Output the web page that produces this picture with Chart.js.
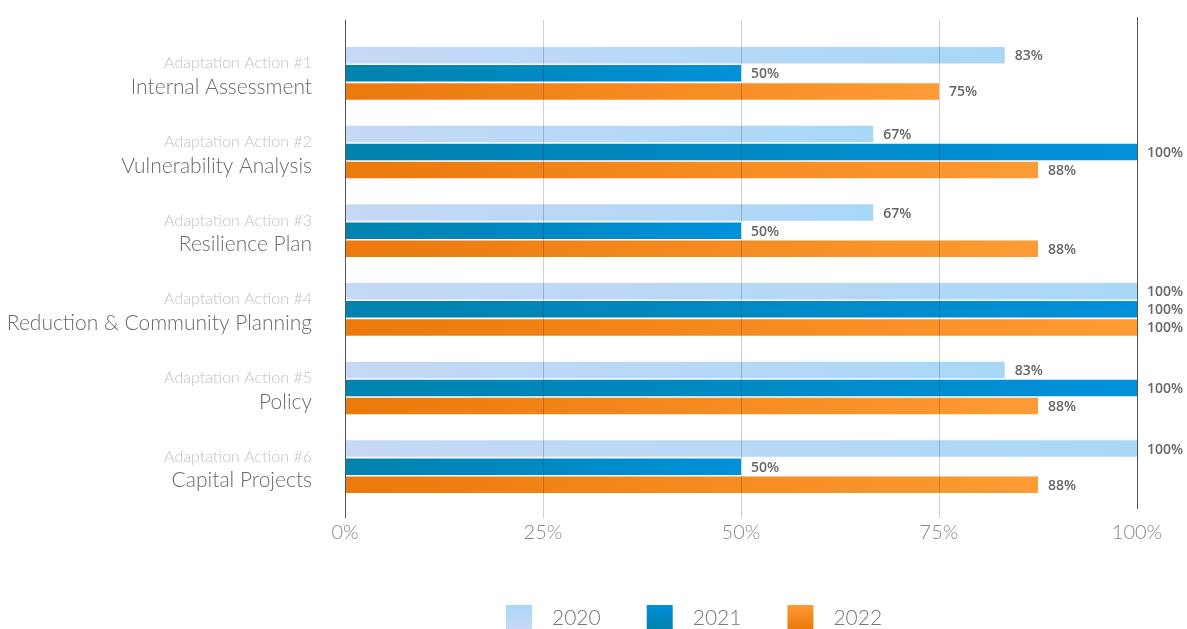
<!DOCTYPE html>
<html>
<head>
<meta charset="utf-8">
<script src="https://cdn.jsdelivr.net/npm/chart.js@4"></script>
<style>
  html, body { margin: 0; padding: 0; background: #fff; }
  #wrap { width: 1187px; height: 629px; }
</style>
</head>
<body>
<div id="wrap"><canvas id="grafico"></canvas></div>
<script>
// datos
const acciones = ['Adaptation Action #1', 'Adaptation Action #2', 'Adaptation Action #3',
                  'Adaptation Action #4', 'Adaptation Action #5', 'Adaptation Action #6'];
const nombres = ['Internal Assessment', 'Vulnerability Analysis', 'Resilience Plan',
                 'Reduction & Community Planning', 'Policy', 'Capital Projects'];
const anios = ['2020', '2021', '2022'];
const valores2020 = [83.3, 66.7, 66.7, 100, 83.3, 100];
const valores2021 = [50, 100, 50, 100, 100, 50];
const valores2022 = [75, 87.5, 87.5, 100, 87.5, 87.5];
const ticksX = [0, 25, 50, 75, 100];

// colores: [izquierda, derecha] de cada barra
const colores = [
  ['#c6d9f6', '#a8d7f6'],
  ['#0082ad', '#0091da'],
  ['#eb790b', '#fe9b34']
];

const fuenteFina = '"Lato", "Open Sans", sans-serif';

const degradado = (idx) => (ctx) => {
  const chart = ctx.chart;
  if (!chart.chartArea || !chart.scales.x) return colores[idx][1];
  const x0 = chart.scales.x.getPixelForValue(0);
  const x1 = chart.scales.x.getPixelForValue(ctx.raw || 0);
  const g = chart.ctx.createLinearGradient(x0, 0, Math.max(x1, x0 + 1), 0);
  g.addColorStop(0, colores[idx][0]);
  g.addColorStop(1, colores[idx][1]);
  return g;
};

const conjuntos = [valores2020, valores2021, valores2022].map((v, i) => ({
  label: anios[i],
  data: v,
  backgroundColor: degradado(i),
  borderWidth: 0,
  categoryPercentage: 0.69,
  barPercentage: 0.91
}));

// lineas verticales encima de las barras
const lineasPlugin = {
  id: 'lineas',
  afterDatasetsDraw(chart) {
    const {ctx, scales: {x}} = chart;
    ctx.save();
    ticksX.forEach((t) => {
      const px = Math.round(x.getPixelForValue(t)) + 0.5;
      ctx.beginPath();
      if (t === 0) {
        ctx.strokeStyle = '#555';
        ctx.moveTo(px, 20); ctx.lineTo(px, 518);
      } else if (t === 100) {
        ctx.strokeStyle = '#555';
        ctx.moveTo(px, 17); ctx.lineTo(px, 509);
      } else {
        ctx.strokeStyle = 'rgba(0,0,0,0.18)';
        ctx.moveTo(px, 20); ctx.lineTo(px, 518);
      }
      ctx.lineWidth = 1;
      ctx.stroke();
    });
    ctx.restore();
  }
};

// etiquetas de valor y etiquetas de categoria
const textosPlugin = {
  id: 'textos',
  afterDraw(chart) {
    const {ctx, scales: {y}} = chart;
    ctx.save();
    // valores
    ctx.font = '600 14px "Open Sans", sans-serif';
    ctx.fillStyle = '#666';
    ctx.textAlign = 'left';
    ctx.textBaseline = 'middle';
    chart.data.datasets.forEach((ds, di) => {
      chart.getDatasetMeta(di).data.forEach((bar, i) => {
        ctx.fillText(Math.round(ds.data[i]) + '%', bar.x + 10, bar.y + 1);
      });
    });
    // categorias
    ctx.textAlign = 'right';
    acciones.forEach((a, i) => {
      const cy = y.getPixelForValue(i);
      ctx.font = '300 16px ' + fuenteFina;
      ctx.fillStyle = '#c2c2c2';
      ctx.fillText(a, 312, cy - 10);
      ctx.font = '300 21px ' + fuenteFina;
      ctx.fillStyle = '#6a6a6a';
      ctx.fillText(nombres[i], 312, cy + 14);
    });
    // leyenda
    let lx = 506;
    const ly = 617;
    ctx.font = '300 21px ' + fuenteFina;
    ctx.textAlign = 'left';
    anios.forEach((an, i) => {
      const g = ctx.createLinearGradient(0, ly - 12, 0, ly + 12);
      g.addColorStop(0, colores[i][1]);
      g.addColorStop(1, colores[i][0]);
      ctx.fillStyle = g;
      ctx.fillRect(lx, ly - 12, 26, 24);
      ctx.fillStyle = '#777';
      ctx.fillText(an, lx + 46, ly + 1);
      lx += 46 + ctx.measureText(an).width + 46;
    });
    ctx.restore();
  }
};

const grafico = new Chart(document.getElementById('grafico').getContext('2d'), {
  type: 'bar',
  data: {
    labels: nombres,
    datasets: conjuntos
  },
  options: {
    indexAxis: 'y',
    responsive: true,
    maintainAspectRatio: false,
    animation: false,
    layout: {
      padding: { left: 345, right: 50, top: 34, bottom: 69 }
    },
    scales: {
      x: {
        min: 0,
        max: 100,
        ticks: {
          stepSize: 25,
          padding: 15,
          color: '#888',
          font: { family: fuenteFina, size: 20, weight: 300 },
          callback: (v) => v + '%'
        },
        grid: { display: false, drawTicks: false },
        border: { display: false }
      },
      y: {
        display: false,
        grid: { display: false }
      }
    },
    plugins: {
      legend: { display: false },
      tooltip: { enabled: false }
    }
  },
  plugins: [lineasPlugin, textosPlugin]
});
</script>
</body>
</html>
